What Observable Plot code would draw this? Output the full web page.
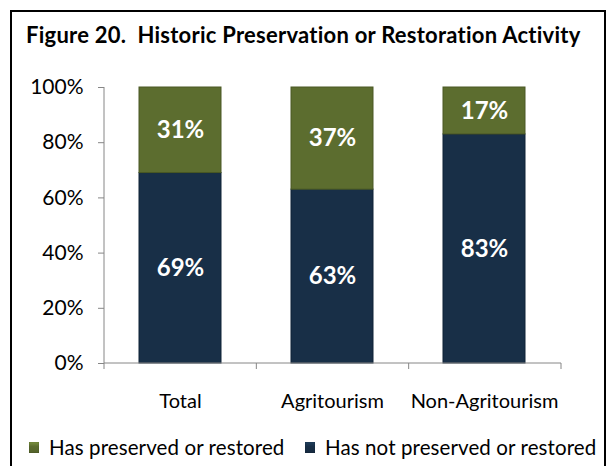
<!DOCTYPE html>
<html><head><meta charset="utf-8">
<script src="https://cdn.jsdelivr.net/npm/d3@7"></script>
<script src="https://cdn.jsdelivr.net/npm/@observablehq/plot@0.6"></script>
<style>
html,body{margin:0;padding:0;background:#fff;}
body{width:608px;height:466px;overflow:hidden;position:relative;font-family:Lato,"Open Sans",sans-serif;color:#000;}
#frame{position:absolute;left:10px;top:10px;width:596px;height:480px;border:2px solid #000;box-sizing:border-box;}
#title{position:absolute;left:26px;top:23px;font-weight:bold;font-size:22px;letter-spacing:0.25px;white-space:pre;line-height:24px;}
#chart{position:absolute;left:0;top:70px;}
.leg{position:absolute;top:436px;font-size:20.5px;line-height:22px;white-space:pre;display:flex;align-items:center;letter-spacing:0.1px;}
.sw{width:10px;height:11px;margin-right:10px;box-shadow:inset 0 0 1px rgba(0,0,0,0.6);}
</style>
</head><body>
<div id="frame"></div>
<div id="title"></div>
<div id="chart"></div>
<div id="legend"></div>
<script>
// ---- data ----
const titleText = "Figure 20.  Historic Preservation or Restoration Activity";
const categories = ["Total", "Agritourism", "Non-Agritourism"];
const seriesNames = ["Has preserved or restored", "Has not preserved or restored"];
const preserved = [31, 37, 17];
const notPreserved = [69, 63, 83];
const yTicks = [0, 20, 40, 60, 80, 100];

// ---- styles ----
const colors = ["#5c6d2f", "#182f47"];
const strokes = ["#4a5924", "#0f2236"];

document.getElementById("title").textContent = titleText;

const rows = [];
categories.forEach((c, i) => {
  rows.push({cat: c, series: seriesNames[1], value: notPreserved[i]});
  rows.push({cat: c, series: seriesNames[0], value: preserved[i]});
});

const W = 608, H = 345, ml = 104, mr = 47, mt = 17, mb = 52;

const axisLines = (index, scales, values, dims) => {
  const g = d3.create("svg:g");
  const y0 = scales.y(0), y1 = scales.y(100);
  const x0 = dims.marginLeft, x1 = dims.width - dims.marginRight;
  g.append("line").attr("x1", x0).attr("x2", x0).attr("y1", y0).attr("y2", y1).attr("stroke", "#868686");
  g.append("line").attr("x1", x0).attr("x2", x1).attr("y1", y0).attr("y2", y0).attr("stroke", "#868686");
  const n = categories.length;
  for (let k = 0; k <= n; k++) {
    const x = x0 + k * (x1 - x0) / n;
    g.append("line").attr("x1", x).attr("x2", x).attr("y1", y0).attr("y2", y0 + 6).attr("stroke", "#868686");
  }
  return g.node();
};

const chart = Plot.plot({
  width: W, height: H,
  marginLeft: ml, marginRight: mr, marginTop: mt, marginBottom: mb,
  style: {fontFamily: "Lato, 'Open Sans', sans-serif", fontSize: "20px", color: "#000", background: "transparent", overflow: "visible"},
  x: {domain: categories, paddingInner: 0.46, paddingOuter: 0.23, label: null},
  y: {domain: [0, 100], label: null},
  color: {domain: seriesNames, range: colors},
  marks: [
    Plot.barY(rows, {x: "cat", y: "value", fill: "series", stroke: d => strokes[seriesNames.indexOf(d.series)], strokeWidth: 1, inset: 0}),
    Plot.text(rows, Plot.stackY({x: "cat", y: "value", z: "series", text: d => d.value + "%", fill: "white", fontWeight: "bold", fontSize: 24})),
    axisLines,
    Plot.axisY({ticks: yTicks, tickFormat: d => d + "%", tickSize: 6, tickPadding: 15, fontSize: 21, stroke: "#868686", fill: "#000", label: null}),
    Plot.axisX({tickSize: 0, tickPadding: 30, fontSize: 20, fill: "#000", label: null})
  ]
});
document.getElementById("chart").appendChild(chart);

// legend
const legend = document.getElementById("legend");
const legLeft = [29, 305];
seriesNames.forEach((name, i) => {
  const item = document.createElement("div");
  item.className = "leg";
  item.style.left = legLeft[i] + "px";
  const sw = document.createElement("span");
  sw.className = "sw";
  sw.style.background = `linear-gradient(${d3.color(colors[i]).brighter(0.8)}, ${colors[i]} 40%, ${d3.color(colors[i]).darker(0.3)})`;
  const t = document.createElement("span");
  t.textContent = name;
  item.appendChild(sw); item.appendChild(t);
  legend.appendChild(item);
});
</script>
</body></html>
